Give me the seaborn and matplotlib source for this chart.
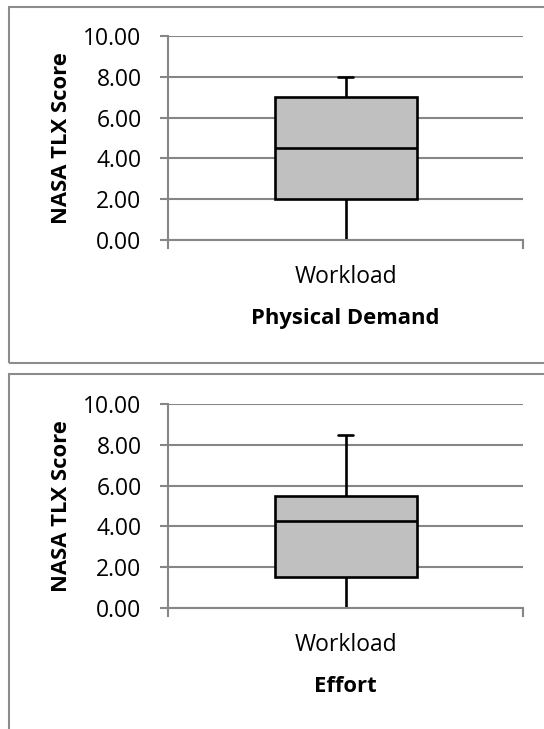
import numpy as np
import pandas as pd
import matplotlib
matplotlib.use("Agg")
import matplotlib.pyplot as plt
from matplotlib.patches import Rectangle
import seaborn as sns

# %%
categories = ["Workload"]
panel_titles = ["Physical Demand", "Effort"]
# five-number summaries (min, Q1, median, Q3, max)
physical_demand = [0.0, 2.0, 4.5, 7.0, 8.0]
effort = [0.0, 1.5, 4.25, 5.5, 8.5]
y_ticks = [0, 2, 4, 6, 8, 10]
y_label = "NASA TLX Score"

df = pd.concat(
    [
        pd.DataFrame({"panel": title, "category": categories[0], "score": vals})
        for title, vals in zip(panel_titles, [physical_demand, effort])
    ],
    ignore_index=True,
)

# %%
sns.set_theme(style="white")
plt.rcParams["font.family"] = ["Open Sans", "DejaVu Sans"]
plt.rcParams["text.color"] = "black"
plt.rcParams["axes.labelcolor"] = "black"

GRID = "#868686"
fig = plt.figure(figsize=(5.44, 7.29), dpi=100)

# panel frames (excel chart areas)
for top, bottom in [(6.5, 363), (374, 740)]:
    fig.add_artist(Rectangle((8.5 / 544, 1 - bottom / 729), 0.99, (bottom - top) / 729,
                             transform=fig.transFigure, fill=False,
                             edgecolor="#8c8c8c", linewidth=1.5))

axes_bottoms = [1 - 240 / 729, 1 - 608 / 729]
for title, bottom in zip(panel_titles, axes_bottoms):
    ax = fig.add_axes([168 / 544, bottom, 355 / 544, 204 / 729])
    sns.boxplot(
        data=df[df["panel"] == title], x="category", y="score", ax=ax,
        whis=(0, 100), width=0.4, color="#C0C0C0", saturation=1,
        linecolor="black", linewidth=1.9, capwidths=0.042,
    )
    # hide the cap lying on the zero axis
    for ln in ax.lines:
        yd = np.asarray(ln.get_ydata(), dtype=float)
        xd = np.asarray(ln.get_xdata(), dtype=float)
        if len(yd) == 2 and np.all(yd == 0) and xd[0] != xd[1]:
            ln.set_visible(False)

    ax.set_ylim(0, 10)
    ax.set_xlim(-0.5, 0.5)
    ax.set_yticks(y_ticks)
    ax.yaxis.set_major_formatter(matplotlib.ticker.FormatStrFormatter("%.2f"))
    ax.yaxis.grid(True, color=GRID, linewidth=1.5)
    ax.set_axisbelow(True)
    for side in ["top", "right"]:
        ax.spines[side].set_visible(False)
    for side in ["left", "bottom"]:
        ax.spines[side].set_color(GRID)
        ax.spines[side].set_linewidth(1.5)

    ax.tick_params(axis="y", left=True, length=6, width=1.5, color=GRID,
                   pad=13, labelsize=16.5, labelcolor="black")
    ax.set_xticks([0], categories)
    ax.set_xticks([-0.5, 0.5], minor=True)
    ax.tick_params(axis="x", which="major", length=0, pad=18, labelsize=16.5,
                   labelcolor="black")
    ax.tick_params(axis="x", which="minor", bottom=True, length=6.5, width=1.5,
                   color=GRID)

    ax.set_xlabel(title, fontsize=15.8, fontweight="bold", labelpad=13.5)
    ax.set_ylabel(y_label, fontsize=15.8, fontweight="bold", labelpad=8)

fig.savefig("out.png", dpi=100)
